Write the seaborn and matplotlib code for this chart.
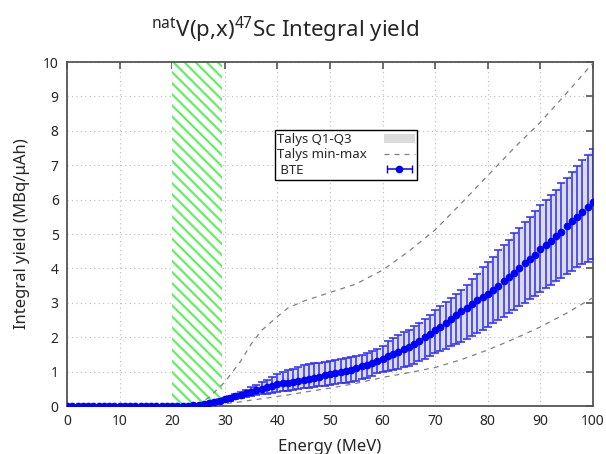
import numpy as np
import matplotlib
matplotlib.use("Agg")
import matplotlib.pyplot as plt
from matplotlib.patches import Patch
from matplotlib.lines import Line2D
from matplotlib.collections import LineCollection
from matplotlib.container import ErrorbarContainer
from matplotlib.legend_handler import HandlerErrorbar
import seaborn as sns

# BTE integral yield, 1 MeV steps from 0 to 100 MeV
energy = np.arange(0, 101)
bte_median = [0] * 23 + [
    0.005, 0.015, 0.03, 0.05, 0.08, 0.11, 0.15, 0.19, 0.23, 0.28,  # 23-32
    0.32, 0.37, 0.41, 0.46, 0.50, 0.54, 0.59, 0.63, 0.66, 0.68,    # 33-42
    0.70, 0.72, 0.75, 0.78, 0.81, 0.85, 0.89, 0.93, 0.96, 0.99,    # 43-52
    1.03, 1.06, 1.10, 1.15, 1.20, 1.25, 1.31, 1.37, 1.44, 1.51,    # 53-62
    1.58, 1.65, 1.72, 1.81, 1.90, 2.00, 2.10, 2.20, 2.31, 2.42,    # 63-72
    2.53, 2.64, 2.75, 2.86, 2.97, 3.07, 3.17, 3.27, 3.37, 3.50,    # 73-82
    3.63, 3.75, 3.88, 4.00, 4.15, 4.27, 4.40, 4.55, 4.68, 4.80,    # 83-92
    4.94, 5.07, 5.22, 5.37, 5.50, 5.65, 5.78, 5.93]                # 93-100
bte_q3 = [0] * 23 + [
    0.01, 0.02, 0.04, 0.07, 0.10, 0.14, 0.19, 0.24, 0.30, 0.36,
    0.42, 0.48, 0.55, 0.62, 0.69, 0.76, 0.84, 0.92, 0.98, 1.04,
    1.09, 1.14, 1.18, 1.21, 1.24, 1.26, 1.28, 1.30, 1.33, 1.36,
    1.39, 1.42, 1.45, 1.49, 1.54, 1.60, 1.67, 1.75, 1.88, 1.98,
    2.06, 2.14, 2.22, 2.32, 2.42, 2.53, 2.65, 2.78, 2.90, 3.02,
    3.13, 3.25, 3.37, 3.52, 3.68, 3.85, 4.03, 4.20, 4.33, 4.53,
    4.68, 4.84, 5.02, 5.17, 5.36, 5.50, 5.66, 5.83, 6.00, 6.14,
    6.29, 6.48, 6.64, 6.80, 6.97, 7.14, 7.30, 7.48]
bte_q1 = [0] * 23 + [
    0.0, 0.01, 0.02, 0.03, 0.05, 0.07, 0.10, 0.13, 0.16, 0.19,
    0.22, 0.25, 0.28, 0.31, 0.34, 0.36, 0.39, 0.41, 0.43, 0.45,
    0.47, 0.49, 0.51, 0.53, 0.55, 0.57, 0.59, 0.61, 0.63, 0.66,
    0.68, 0.71, 0.74, 0.78, 0.82, 0.88, 0.95, 1.00, 1.03, 1.06,
    1.09, 1.12, 1.16, 1.23, 1.30, 1.38, 1.45, 1.53, 1.60, 1.67,
    1.74, 1.80, 1.87, 1.95, 2.03, 2.12, 2.21, 2.30, 2.40, 2.50,
    2.60, 2.70, 2.80, 2.90, 3.00, 3.10, 3.20, 3.32, 3.42, 3.52,
    3.62, 3.72, 3.83, 3.93, 4.03, 4.12, 4.20, 4.28]

# Talys min-max envelope
talys_e = [0, 20, 23, 25, 27, 30, 33, 35, 37, 40, 42, 45, 50, 55, 60,
           65, 70, 75, 80, 85, 90, 95, 100]
talys_max = [0, 0, 0.0, 0.05, 0.25, 0.7, 1.3, 1.8, 2.2, 2.6, 2.85, 3.05, 3.3,
             3.55, 3.95, 4.5, 5.12, 5.9, 6.7, 7.5, 8.25, 9.1, 9.97]
talys_min = [0, 0, 0, 0.0, 0.02, 0.07, 0.12, 0.17, 0.21, 0.28, 0.32, 0.4,
             0.52, 0.66, 0.83, 0.97, 1.12, 1.35, 1.63, 1.95, 2.3, 2.7, 3.15]

# energy window (hatched)
window = [20, 29.5]

sns.set_style("white")
plt.rcParams['font.family'] = ['Noto Sans', 'DejaVu Sans']
plt.rcParams['mathtext.fontset'] = 'custom'
plt.rcParams['mathtext.rm'] = 'Noto Sans'
plt.rcParams['hatch.linewidth'] = 1.5

fig = plt.figure(figsize=(6.06, 4.54), dpi=100)
ax = fig.add_axes([0.1106, 0.1057, 0.8679, 0.7577])

ax.fill_between(window, 0, 10, facecolor='white', edgecolor='#5cf05c',
                hatch='\\\\\\', linewidth=0, zorder=1)

ax.fill_between(energy, bte_q1, bte_q3, color='#dcdcdc', linewidth=0, zorder=2)
sns.lineplot(x=talys_e, y=talys_max, ax=ax, color='#808080', lw=0.9,
             zorder=3).lines[-1].set_dashes([4, 4])
sns.lineplot(x=talys_e, y=talys_min, ax=ax, color='#808080', lw=0.9,
             zorder=3).lines[-1].set_dashes([4, 4])

blue = '#0000ff'
med = np.array(bte_median)
yerr = [med - np.array(bte_q1), np.array(bte_q3) - med]
ax.errorbar(energy, med, yerr=yerr, fmt='o', color=blue, ms=4.5,
            elinewidth=1.1, capsize=3, capthick=1.1, ecolor='#2a2aff', zorder=4)

ax.set_xlim(0, 100)
ax.set_ylim(0, 10)
ax.set_xticks(range(0, 101, 10))
ax.set_yticks(range(0, 11, 1))
ax.grid(True, linestyle=(0, (1, 3)), color='#bbbbbb', lw=0.8)
ax.tick_params(direction='in', length=5, width=1.2, top=True, right=True,
               labelsize=10, color='#555555', pad=6)
for s in ax.spines.values():
    s.set_color('#555555')
    s.set_linewidth(1.3)

ax.set_xlabel('Energy (MeV)', fontsize=12, labelpad=7)
ax.set_ylabel('Integral yield (MBq/μAh)', fontsize=12, labelpad=9)
fig.text(0.47, 0.935, r'$^{\mathrm{nat}}$V(p,x)$^{47}$Sc Integral yield',
         ha='center', va='center', fontsize=16)

# legend handle for BTE drawn as horizontal error bar, like the original
bte_handle = ErrorbarContainer(
    (Line2D([], [], color=blue, marker='o', ms=4.5, ls='none'),
     [Line2D([], [], color=blue, marker='|', ms=6, ls='none')],
     [LineCollection([], colors=blue, linewidths=1.1)]),
    has_xerr=True, has_yerr=False)
handles = [
    Patch(facecolor='#dcdcdc', edgecolor='none'),
    Line2D([], [], color='#808080', lw=0.9, dashes=[4, 4]),
    bte_handle,
]
leg = ax.legend(handles, ['Talys Q1-Q3', 'Talys min-max', ' BTE'],
                loc='upper left', bbox_to_anchor=(0.395, 0.802),
                markerfirst=False, fancybox=False, framealpha=1,
                edgecolor='black', fontsize=9.5, borderpad=0.2,
                labelspacing=0.2, handlelength=2.3, handletextpad=1.3,
                borderaxespad=0,
                handler_map={ErrorbarContainer: HandlerErrorbar(xerr_size=0.95)})
leg.get_frame().set_linewidth(1.0)

# left-align the label texts (handles stay on the right)
fig.canvas.draw()
renderer = fig.canvas.get_renderer()
rows = leg._legend_handle_box.get_children()[0].get_children()
widths = [r.get_children()[0].get_bbox(renderer).width for r in rows]
pt = renderer.points_to_pixels(1.0)
for r, w in zip(rows, widths):
    r.sep = leg.handletextpad * leg._fontsize + (max(widths) - w) / pt

fig.savefig('out.png', dpi=100)
